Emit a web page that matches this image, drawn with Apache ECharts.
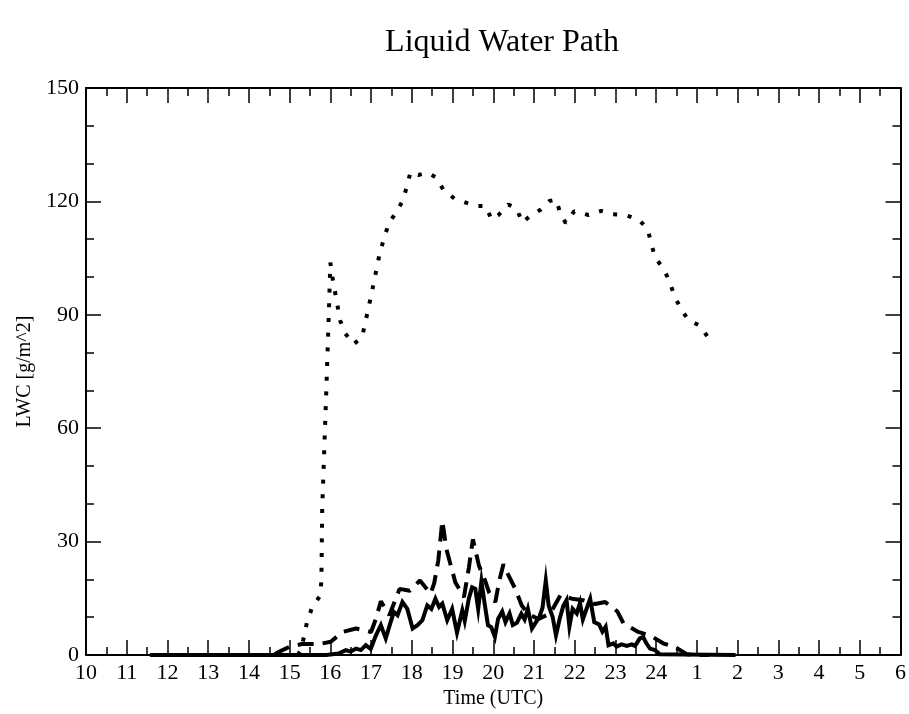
<!DOCTYPE html>
<html>
<head>
<meta charset="utf-8">
<script src="https://cdn.jsdelivr.net/npm/echarts@6/dist/echarts.min.js"></script>
<style>html,body{margin:0;padding:0;background:#fff}#c{width:909px;height:714px}</style>
</head>
<body>
<div id="c"></div>
<script>
// Time in hours UTC (values past 24 are after midnight)
var dottedX = [15.20,15.28,15.36,15.43,15.55,15.75,15.78,15.80,15.90,15.97,16.00,16.05,16.24,16.37,16.57,16.78,17.01,17.22,17.43,17.62,17.79,17.97,18.16,18.40,18.60,18.78,19.05,19.35,19.59,19.81,19.96,20.13,20.37,20.58,20.71,20.88,21.16,21.38,21.54,21.65,21.78,21.99,22.34,22.65,22.92,23.24,23.58,23.79,23.88,23.97,24.18,24.33,24.44,24.60,24.79,25.08,25.28];
var dottedY = [0,1.4,5.2,8.9,12.5,15.7,19.6,38.8,69.7,92.9,103.8,100.0,88.5,85.0,82.2,84.1,95.5,106.7,114.1,117.2,120.4,127.8,127.0,127.6,126.3,123.0,120.7,119.6,118.8,118.8,115.2,116.4,119.2,118.0,114.4,115.9,117.8,120.1,120.5,116.8,114.3,117.4,116.4,117.5,116.6,116.4,115.1,112.7,108.9,105.2,102.2,98.8,95.2,91.7,88.6,87.1,83.9];

var dashedX = [11.57,14.6,14.75,15.0,15.3,15.73,16.01,16.3,16.63,17.0,17.12,17.24,17.45,17.7,17.95,18.2,18.46,18.55,18.65,18.75,18.85,19.07,19.28,19.4,19.5,19.65,19.8,19.9,20.05,20.15,20.25,20.36,20.54,20.7,20.85,21.1,21.4,21.65,21.93,22.2,22.5,22.75,23.05,23.2,23.56,23.85,24.17,24.5,24.75,25.0,25.3];
var dashedY = [0,0,0.9,2.2,2.9,2.9,3.5,6.1,7.0,6.1,9.6,14.2,10.5,17.5,17.0,19.7,16.2,19.0,25.0,35.5,28.0,19.2,15.3,23.0,30.6,23.6,19.7,16.5,14.0,19.7,24.0,21.4,17.5,13.1,11.0,9.5,11.0,15.8,14.9,14.5,13.5,14.0,11.5,8.3,6.1,5.2,3.1,1.9,0.2,0,0];

var solidX = [11.57,15.9,16.2,16.38,16.5,16.63,16.75,16.87,16.99,17.12,17.24,17.36,17.48,17.56,17.65,17.77,17.89,18.02,18.14,18.26,18.38,18.48,18.58,18.67,18.75,18.87,18.99,19.11,19.24,19.3,19.4,19.48,19.56,19.63,19.71,19.79,19.87,19.95,20.04,20.12,20.22,20.3,20.4,20.48,20.58,20.69,20.77,20.85,20.95,21.05,21.13,21.21,21.29,21.36,21.46,21.54,21.63,21.72,21.8,21.87,21.95,22.05,22.13,22.2,22.3,22.38,22.48,22.6,22.68,22.76,22.83,22.95,23.03,23.15,23.28,23.4,23.48,23.6,23.68,23.76,23.85,23.97,24.09,25.95];
var solidY = [0,0,0.4,1.3,0.9,1.7,1.3,2.6,1.6,5.2,7.9,4.4,8.7,11.4,10.5,14.0,12.2,7.0,7.9,9.2,13.1,12.2,14.9,12.7,13.6,9.2,12.2,5.9,11.8,9.0,14.9,17.9,17.5,12.2,19.5,13.5,7.9,7.4,4.8,9.6,11.5,8.7,11.0,7.9,8.5,10.9,9.4,12.2,7.0,8.7,10.0,12.5,19.7,13.1,10.0,5.2,9.5,13.0,14.5,7.5,12.2,11.0,13.8,9.4,12.5,14.9,8.7,8.1,6.2,7.5,2.6,3.1,2.2,2.8,2.4,2.8,2.4,4.4,4.8,3.1,1.7,1.3,0.2,0];

var titleText = 'Liquid Water Path';
var xName = 'Time (UTC)';
var yName = 'LWC [g/m^2]';

function pairs(xs, ys){ return xs.map(function(x,i){ return [x, ys[i]]; }); }

var FONT = '"Liberation Serif", "DejaVu Serif", serif';
var tick = {show:true, inside:true, length:15, lineStyle:{color:'#000', width:1.5}};
var minor = {show:true, length:8, lineStyle:{color:'#000', width:1.5}};
var line = {show:true, onZero:false, lineStyle:{color:'#000', width:2}};

var chart = echarts.init(document.getElementById('c'), null, {renderer:'canvas'});
chart.setOption({
  backgroundColor:'#fff',
  animation:false,
  title:{text:titleText, left:497, textAlign:'center', top:22, textStyle:{fontFamily:FONT, fontSize:32, fontWeight:'normal', color:'#000'}},
  grid:{left:86, right:4, top:88, bottom:54},
  xAxis:[
    {type:'value', min:10, max:30, interval:1, position:'bottom',
     name:xName, nameLocation:'middle', nameGap:34, nameTextStyle:{fontFamily:FONT, fontSize:20, color:'#000'},
     axisLine:line, axisTick:tick, minorTick:Object.assign({splitNumber:2}, minor), splitLine:{show:false},
     axisLabel:{fontFamily:FONT, fontSize:22, color:'#000', margin:7, formatter:function(v){ return v>24 ? String(v-24) : String(v); }}},
    {type:'value', min:10, max:30, interval:1, position:'top',
     axisLine:line, axisTick:tick, minorTick:Object.assign({splitNumber:2}, minor), splitLine:{show:false}, axisLabel:{show:false}}
  ],
  yAxis:[
    {type:'value', min:0, max:150, interval:30, position:'left',
     name:yName, nameLocation:'middle', nameGap:48, nameTextStyle:{fontFamily:FONT, fontSize:20, color:'#000'},
     axisLine:line, axisTick:tick, minorTick:Object.assign({splitNumber:3}, minor), splitLine:{show:false},
     axisLabel:{fontFamily:FONT, fontSize:22, color:'#000', margin:7}},
    {type:'value', min:0, max:150, interval:30, position:'right',
     axisLine:line, axisTick:tick, minorTick:Object.assign({splitNumber:3}, minor), splitLine:{show:false}, axisLabel:{show:false}}
  ],
  series:[
    {type:'line', data:pairs(dottedX, dottedY), showSymbol:false, symbol:'none', z:3,
     lineStyle:{color:'#000', width:4, type:[4,10.7], cap:'butt'}},
    {type:'line', data:pairs(dashedX, dashedY), showSymbol:false, symbol:'none', z:4,
     lineStyle:{color:'#000', width:4, type:[16,9], cap:'butt'}},
    {type:'line', data:pairs(solidX, solidY), showSymbol:false, symbol:'none', z:5,
     lineStyle:{color:'#000', width:4, join:'miter'}}
  ]
});
</script>
</body>
</html>
